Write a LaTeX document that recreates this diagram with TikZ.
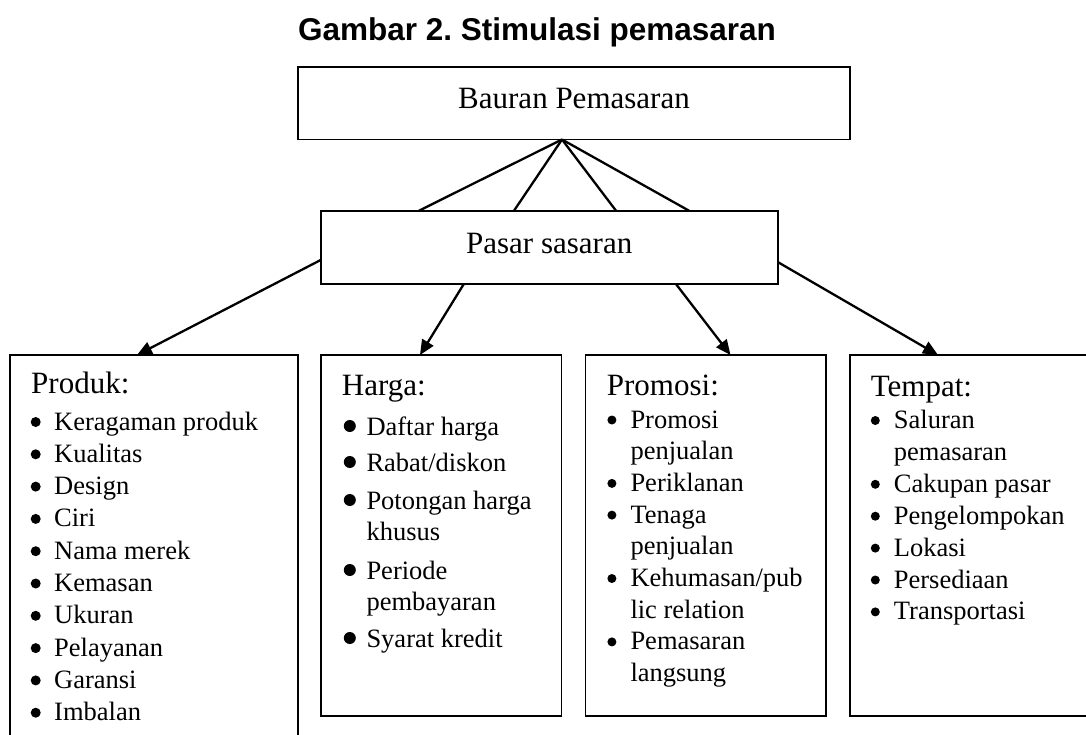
\documentclass[tikz,border=0pt]{standalone}
\usepackage{fontspec}
\setmainfont{Liberation Serif}
\newfontfamily\titlefont{Liberation Sans}
\usetikzlibrary{arrows.meta}
\newcommand\bcx{4.7}
\newcommand\bcy{8}
\newcommand\brad{5}
\newcommand\itm[4]{\fill[bulletdot] (#2+\bcx,#3-\bcy) circle (\brad); \node[itm] (#1) at (#2+23,#3) {#4};}
\newcommand\cnt[4]{\node[itm] (#1) at (#2+23,#3) {#4};}
\begin{document}
\begin{tikzpicture}[x=1pt,y=-1pt,
  box/.style={draw, line width=1.7pt, inner sep=0pt, outer sep=0pt, anchor=north west},
  conn/.style={line width=2.3pt},
  arr/.style={line width=2.3pt, -{Triangle[length=15pt,width=13pt]}},
  head/.style={font=\fontsize{31}{37}\selectfont, anchor=base west, inner sep=0pt},
  itm/.style={font=\fontsize{26.5}{32}\selectfont, anchor=base west, inner sep=0pt},
  big/.style={font=\fontsize{31}{37}\selectfont, text height=20pt},
  bulletdot/.style={black}
]
\useasboundingbox (0,0) rectangle (1086,734);
\node[font=\titlefont\bfseries\fontsize{31.5}{36}\selectfont, anchor=base, inner sep=0pt] (title) at (537,40) {\frenchspacing Gambar 2. Stimulasi pemasaran};

\node[box, big, minimum width=552pt, minimum height=72.5pt, text depth=10.5pt] (bauran) at (298,67) {Bauran Pemasaran};
\node[box, big, minimum width=457pt, minimum height=73pt, text depth=8.4pt] (pasar) at (320.7,210.7) {Pasar sasaran};

\node[box, minimum width=288pt, minimum height=420pt] (produk) at (9.7,355) {};
\node[box, minimum width=240.8pt, minimum height=361pt] (harga) at (320.7,355) {};
\node[box, minimum width=240.3pt, minimum height=361pt] (promosi) at (585.5,355) {};
\node[box, minimum width=260pt, minimum height=361pt] (tempat) at (849.8,355) {};

\coordinate (apex) at ([xshift=-12pt]bauran.south);
\foreach \dx in {98.3,193.3,295.3,368.3}
  \draw[conn] (apex) -- ([xshift=\dx pt]pasar.north west);

\draw[arr] ([yshift=-12.8pt]pasar.west) -- ([xshift=127.3pt]produk.north west);
\draw[arr] ([xshift=143.3pt]pasar.south west) -- ([xshift=99.3pt]harga.north west);
\draw[arr] ([xshift=355pt]pasar.south west) -- ([xshift=145pt]promosi.north west);
\draw[arr] ([yshift=-14.8pt]pasar.east) -- ([xshift=88.2pt]tempat.north west);

% Produk
\node[head] (hprod) at (31,393) {Produk:};
\itm{p1}{31}{430}{Keragaman produk}
\itm{p2}{31}{462.3}{Kualitas}
\itm{p3}{31}{494.6}{Design}
\itm{p4}{31}{526.9}{Ciri}
\itm{p5}{31}{559.2}{Nama merek}
\itm{p6}{31}{591.5}{Kemasan}
\itm{p7}{31}{623.8}{Ukuran}
\itm{p8}{31}{656.1}{Pelayanan}
\itm{p9}{31}{688.4}{Garansi}
\itm{p10}{31}{720.7}{Imbalan}

% Harga
\renewcommand\bcx{6.5}\renewcommand\bcy{9}\renewcommand\brad{6}
\node[head] (hharga) at (341.7,395) {Harga:};
\itm{h1}{343.3}{435}{Daftar harga}
\itm{h2}{343.3}{471}{Rabat/diskon}
\itm{h3}{343.3}{509}{Potongan harga}
\cnt{h3b}{343.3}{540}{khusus}
\itm{h4}{343.3}{579}{Periode}
\cnt{h4b}{343.3}{610}{pembayaran}
\itm{h5}{343.3}{647}{Syarat kredit}

% Promosi
\renewcommand\bcx{4.6}\renewcommand\bcy{8}\renewcommand\brad{4.5}
\node[head] (hpromo) at (606.7,395) {Promosi:};
\itm{r1}{607.3}{428}{Promosi}
\cnt{r1b}{607.3}{459.7}{penjualan}
\itm{r2}{607.3}{491.4}{Periklanan}
\itm{r3}{607.3}{523.1}{Tenaga}
\cnt{r3b}{607.3}{554.8}{penjualan}
\itm{r4}{607.3}{586.5}{Kehumasan/pub}
\cnt{r4b}{607.3}{618.2}{lic relation}
\itm{r5}{607.3}{649.9}{Pemasaran}
\cnt{r5b}{607.3}{681.6}{langsung}

% Tempat
\node[head] (htempat) at (870.7,396) {Tempat:};
\itm{t1}{870.7}{428.5}{Saluran}
\cnt{t1b}{870.7}{460.4}{pemasaran}
\itm{t2}{870.7}{492.3}{Cakupan pasar}
\itm{t3}{870.7}{524.2}{Pengelompokan}
\itm{t4}{870.7}{556.1}{Lokasi}
\itm{t5}{870.7}{588}{Persediaan}
\itm{t6}{870.7}{619.9}{Transportasi}
\end{tikzpicture}
\end{document}
